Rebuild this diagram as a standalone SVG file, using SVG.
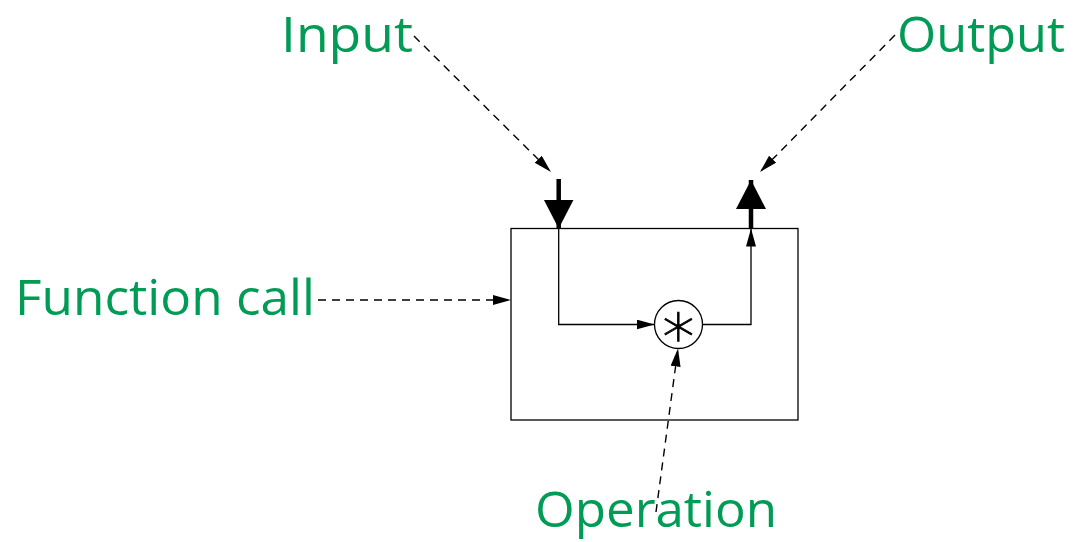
<svg xmlns="http://www.w3.org/2000/svg" width="1086" height="542" viewBox="0 0 1086 542">
<style>
.lbl{font-family:"Comic Sans MS","Open Sans",sans-serif;font-size:50px;fill:#009b55}
.thin{fill:none;stroke:#000;stroke-width:1.3}
.dash{fill:none;stroke:#000;stroke-width:1.4;stroke-dasharray:8 6}
.thick{fill:none;stroke:#000;stroke-width:4.5}
</style>
<defs>
<marker id="ah" markerUnits="userSpaceOnUse" markerWidth="20" markerHeight="12" refX="18" refY="5" orient="auto">
<path d="M0,0 L18,5 L0,10 Z" fill="#000"/>
</marker>
<marker id="big" markerUnits="userSpaceOnUse" markerWidth="32" markerHeight="32" refX="29" refY="15" orient="auto">
<path d="M0,0 L29,15 L0,30 Z" fill="#000"/>
</marker>
</defs>
<g id="box"><rect x="511" y="228.5" width="287" height="191.5" class="thin"/></g>
<g id="op"><circle cx="678.5" cy="324.5" r="24" class="thin" fill="#fff"/>
<text x="678.5" y="347" text-anchor="middle" fill="#000" stroke="#000" stroke-width="0.9" style="font-family:'DejaVu Sans',sans-serif;font-weight:200;font-size:64px">∗</text></g>
<g id="input"><text class="lbl" x="281" y="52" textLength="132" lengthAdjust="spacingAndGlyphs">Input</text></g>
<g id="output"><text class="lbl" x="897" y="52" textLength="168" lengthAdjust="spacingAndGlyphs">Output</text></g>
<g id="fcall"><text class="lbl" x="15" y="315" textLength="300" lengthAdjust="spacingAndGlyphs">Function call</text></g>
<g id="operation"><text class="lbl" x="535" y="527" textLength="242" lengthAdjust="spacingAndGlyphs">Operation</text></g>
<g id="connectors">
<path d="M558.7,179 V228.5" class="thick" marker-end="url(#big)"/>
<path d="M751,228.5 V180" class="thick" marker-end="url(#big)"/>
<path d="M558.7,228.5 V324.5 H654.5" class="thin" marker-end="url(#ah)"/>
<path d="M702.5,324.5 H751 V228.5" class="thin" marker-end="url(#ah)"/>
<path d="M414,36 L551,172" class="dash" marker-end="url(#ah)"/>
<path d="M895,35 L760,172" class="dash" marker-end="url(#ah)"/>
<path d="M318,300 H511" class="dash" marker-end="url(#ah)"/>
<path d="M656,512 L678,348.5" class="dash" marker-end="url(#ah)"/>
</g>
</svg>
